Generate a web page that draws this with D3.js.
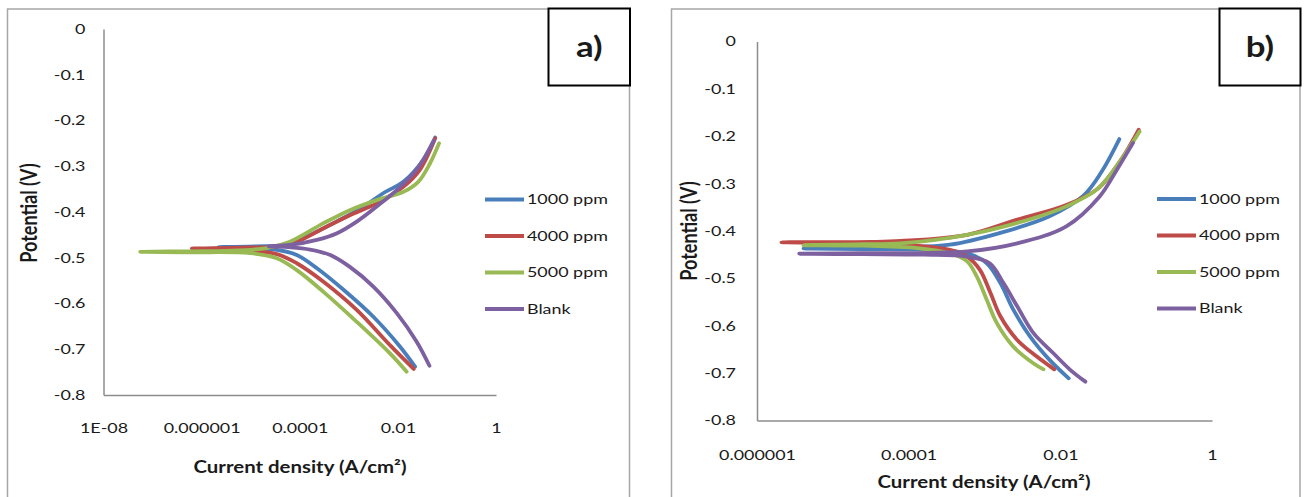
<!DOCTYPE html>
<html>
<head>
<meta charset="utf-8">
<script src="https://cdn.jsdelivr.net/npm/d3@7"></script>
<style>
  html, body { margin: 0; padding: 0; background: #fff; }
  svg { display: block; }
  text { font-family: Lato, "Open Sans", sans-serif; fill: #1a1a1a; }
</style>
</head>
<body>
<svg id="chart" width="1308" height="497"></svg>
<script>
// ---- Data: polarization curves, each traced from the cathodic end through Ecorr to the anodic end ----
const seriesNames = ["1000 ppm", "4000 ppm", "5000 ppm", "Blank"];
const seriesColors = ["#4A7EBB", "#BE4B48", "#98B954", "#7D60A0"];

const yTicks = [0, -0.1, -0.2, -0.3, -0.4, -0.5, -0.6, -0.7, -0.8];

// Panel a)
const aXTicks = [1e-8, 1e-6, 1e-4, 1e-2, 1];
const aXTickLabels = ["1E-08", "0.000001", "0.0001", "0.01", "1"];

const aI1000 = [2.24e-2, 1.1e-2, 3.16e-3, 7.8e-4, 2.24e-4, 8.7e-5, 3.4e-5, 8.3e-6, 2.2e-6,
                1.32e-5, 4.7e-5, 1.62e-4, 6.6e-4, 2.0e-3, 5.0e-3, 1.29e-2, 3.3e-2, 5.75e-2];
const aE1000 = [-0.738, -0.694, -0.629, -0.570, -0.523, -0.494, -0.483, -0.479, -0.477,
                -0.475, -0.472, -0.450, -0.417, -0.388, -0.359, -0.334, -0.286, -0.237];

const aI4000 = [2.1e-2, 6.9e-3, 1.45e-3, 3.0e-4, 8.7e-5, 3.4e-5, 6.0e-6, 6.3e-7,
                6.0e-6, 3.4e-5, 8.7e-5, 3.0e-4, 1.05e-3, 3.7e-3, 1.29e-2, 2.8e-2, 5.75e-2];
const aE4000 = [-0.743, -0.691, -0.614, -0.552, -0.512, -0.492, -0.483, -0.480,
                -0.478, -0.475, -0.465, -0.436, -0.407, -0.381, -0.345, -0.308, -0.239];

const aI5000 = [1.51e-2, 6.9e-3, 1.45e-3, 3.0e-4, 8.7e-5, 3.4e-5, 9.8e-6, 5.9e-7, 5.6e-8,
                6.3e-7, 2.75e-6, 2.1e-5, 6.3e-5, 3.0e-4, 1.05e-3, 3.7e-3, 1.29e-2, 2.6e-2, 4.5e-2, 6.9e-2];
const aE5000 = [-0.749, -0.709, -0.640, -0.574, -0.527, -0.501, -0.490, -0.488, -0.487,
                -0.486, -0.485, -0.479, -0.465, -0.425, -0.396, -0.374, -0.356, -0.334, -0.294, -0.250];

const aIBlank = [4.4e-2, 2.4e-2, 9.5e-3, 3.16e-3, 1.05e-3, 4.2e-4, 1.62e-4, 6.3e-5, 2.3e-5,
                 6.3e-5, 2.24e-4, 5.6e-4, 1.45e-3, 3.7e-3, 9.5e-3, 2.4e-2, 5.4e-2];
const aEBlank = [-0.736, -0.683, -0.621, -0.563, -0.520, -0.494, -0.482, -0.477, -0.475,
                 -0.472, -0.461, -0.447, -0.421, -0.388, -0.352, -0.308, -0.244];

// Panel b)
const bXTicks = [1e-6, 1e-4, 1e-2, 1];
const bXTickLabels = ["0.000001", "0.0001", "0.01", "1"];

const bI1000 = [1.29e-2, 7.2e-3, 4.0e-3, 2.4e-3, 1.62e-3, 1.07e-3, 5.9e-4, 2.14e-4, 3.16e-5, 4.1e-6,
                3.16e-5, 7.8e-5, 3.5e-4, 1.62e-3, 7.2e-3, 2.0e-2, 3.5e-2, 6.0e-2];
const bE1000 = [-0.711, -0.672, -0.623, -0.566, -0.510, -0.468, -0.447, -0.440, -0.438, -0.437,
                -0.435, -0.434, -0.429, -0.404, -0.369, -0.326, -0.275, -0.206];

const bI4000 = [8.3e-3, 4.9e-3, 2.7e-3, 1.62e-3, 1.2e-3, 8.7e-4, 5.9e-4, 3.5e-4, 1.74e-4, 3.16e-5, 2.1e-6,
                3.16e-5, 7.8e-5, 5.9e-4, 2.7e-3, 1.2e-2, 3.16e-2, 6.3e-2, 0.108];
const bE4000 = [-0.692, -0.665, -0.630, -0.580, -0.531, -0.482, -0.454, -0.440, -0.433, -0.426, -0.424,
                -0.423, -0.421, -0.408, -0.376, -0.345, -0.310, -0.250, -0.186];

const bI5000 = [6.0e-3, 4.4e-3, 2.4e-3, 1.45e-3, 1.07e-3, 7.9e-4, 5.9e-4, 3.5e-4, 1.29e-4, 2.5e-5, 4.1e-6,
                2.5e-5, 7.8e-5, 5.9e-4, 4.4e-3, 1.2e-2, 3.16e-2, 6.3e-2, 0.111];
const bE5000 = [-0.692, -0.679, -0.644, -0.594, -0.545, -0.496, -0.464, -0.447, -0.436, -0.431, -0.430,
                -0.428, -0.426, -0.408, -0.373, -0.348, -0.310, -0.250, -0.190];

const bIBlank = [2.14e-2, 1.35e-2, 8.1e-3, 4.4e-3, 2.7e-3, 1.78e-3, 1.17e-3, 5.9e-4, 1.58e-4, 2.5e-5, 3.6e-6,
                 2.5e-5, 5.9e-4, 2.7e-3, 1.2e-2, 3.3e-2, 5.6e-2, 9.1e-2];
const bEBlank = [-0.718, -0.693, -0.658, -0.615, -0.559, -0.510, -0.468, -0.454, -0.450, -0.449, -0.448,
                 -0.447, -0.443, -0.426, -0.390, -0.327, -0.270, -0.214];

// ---- Drawing ----
const svg = d3.select("#chart");
const SX = 1.28; // horizontal text stretch

function stretch(sel, sx) {
  sel.each(function () {
    const t = d3.select(this);
    const x = +t.attr("x") || 0;
    t.attr("x", x / sx).attr("transform", `scale(${sx},1)`);
  });
}

function zip(I, E) { return I.map((v, i) => [v, E[i]]); }

function drawPanel(cfg) {
  const g = svg.append("g");

  // outer frame (runs off the bottom edge)
  g.append("rect")
    .attr("x", cfg.frame[0]).attr("y", cfg.frame[1])
    .attr("width", cfg.frame[2] - cfg.frame[0]).attr("height", 520)
    .attr("fill", "#fff").attr("stroke", "#a6a6a6").attr("stroke-width", 1.5);

  const x = d3.scaleLog().domain(cfg.xDomain).range(cfg.xRange);
  const y = d3.scaleLinear().domain([-0.8, 0]).range(cfg.yRange);

  // y axis
  const ya = g.append("g")
    .attr("transform", `translate(${cfg.xRange[0]},0)`)
    .call(d3.axisLeft(y).tickValues(yTicks).tickSize(0).tickPadding(cfg.yPad)
      .tickFormat(d => String(+d.toFixed(1))));
  ya.select(".domain").attr("stroke", "#8c8c8c").attr("stroke-width", 1.5);
  ya.selectAll("text").attr("font-size", 14).attr("font-family", "Lato").attr("fill", "#1a1a1a");
  stretch(ya.selectAll("text"), SX);

  // x axis
  const xa = g.append("g")
    .attr("transform", `translate(0,${cfg.yRange[0]})`)
    .call(d3.axisBottom(x).tickValues(cfg.xTicks).tickSize(0).tickPadding(cfg.xPad)
      .tickFormat((d, i) => cfg.xLabels[i]));
  xa.select(".domain").attr("stroke", "#8c8c8c").attr("stroke-width", 1.5);
  xa.selectAll("text").attr("font-size", 14).attr("font-family", "Lato").attr("fill", "#1a1a1a");
  stretch(xa.selectAll("text"), SX);

  // curves
  const line = d3.line()
    .x(d => x(d[0])).y(d => y(d[1]))
    .curve(d3.curveCatmullRom.alpha(0.5));
  cfg.series.forEach((s, i) => {
    g.append("path")
      .attr("d", line(s))
      .attr("fill", "none")
      .attr("stroke", seriesColors[i])
      .attr("stroke-width", 3.8)
      .attr("stroke-linecap", "round")
      .attr("stroke-linejoin", "round");
  });

  // legend
  seriesNames.forEach((name, i) => {
    const ly = cfg.legend[1] + i * 36.5;
    g.append("line")
      .attr("x1", cfg.legend[0]).attr("x2", cfg.legend[0] + 39)
      .attr("y1", ly).attr("y2", ly)
      .attr("stroke", seriesColors[i]).attr("stroke-width", 3.8);
    const t = g.append("text")
      .attr("x", cfg.legend[0] + 42).attr("y", ly).attr("dy", "0.35em")
      .attr("font-size", 14).text(name);
    stretch(t, SX);
  });

  // axis titles
  const xt = g.append("text")
    .attr("x", cfg.xTitle[0]).attr("y", cfg.xTitle[1]).attr("dy", "0.35em")
    .attr("text-anchor", "middle").attr("font-size", 17).attr("font-weight", "bold")
    .text("Current density (A/cm²)");
  stretch(xt, 1.2);

  g.append("text")
    .attr("transform", `translate(${cfg.yTitle[0]},${cfg.yTitle[1]}) scale(1.25,1) rotate(-90)`)
    .attr("dy", "0.35em")
    .attr("text-anchor", "middle").attr("font-size", 18).attr("font-weight", "bold")
    .text("Potential (V)");

  // panel label box
  g.append("rect")
    .attr("x", cfg.box[0]).attr("y", cfg.box[1])
    .attr("width", cfg.box[2] - cfg.box[0]).attr("height", cfg.box[3] - cfg.box[1])
    .attr("fill", "#fff").attr("stroke", "#000").attr("stroke-width", 2);
  const bt = g.append("text")
    .attr("x", (cfg.box[0] + cfg.box[2]) / 2).attr("y", (cfg.box[1] + cfg.box[3]) / 2)
    .attr("dy", "0.35em").attr("text-anchor", "middle")
    .attr("font-size", 29).attr("font-weight", "bold").attr("fill", "#000")
    .text(cfg.label);
  stretch(bt, 1.2);
}

drawPanel({
  frame: [7.5, 9, 629.5],
  xDomain: [1e-8, 1], xRange: [103.5, 496], yRange: [395, 29],
  xTicks: aXTicks, xLabels: aXTickLabels, yPad: 18, xPad: 28,
  series: [zip(aI1000, aE1000), zip(aI4000, aE4000), zip(aI5000, aE5000), zip(aIBlank, aEBlank)],
  legend: [485, 199.5],
  xTitle: [300, 467], yTitle: [29, 213],
  box: [548.5, 8.5, 630, 85.5], label: "a)"
});

drawPanel({
  frame: [671.5, 9, 1300],
  xDomain: [1e-6, 1], xRange: [757, 1212], yRange: [420.5, 41.5],
  xTicks: bXTicks, xLabels: bXTickLabels, yPad: 21, xPad: 30,
  series: [zip(bI1000, bE1000), zip(bI4000, bE4000), zip(bI5000, bE5000), zip(bIBlank, bEBlank)],
  legend: [1157, 199],
  xTitle: [984, 482], yTitle: [689, 231],
  box: [1219.5, 8.5, 1300.5, 85.5], label: "b)"
});
</script>
</body>
</html>
